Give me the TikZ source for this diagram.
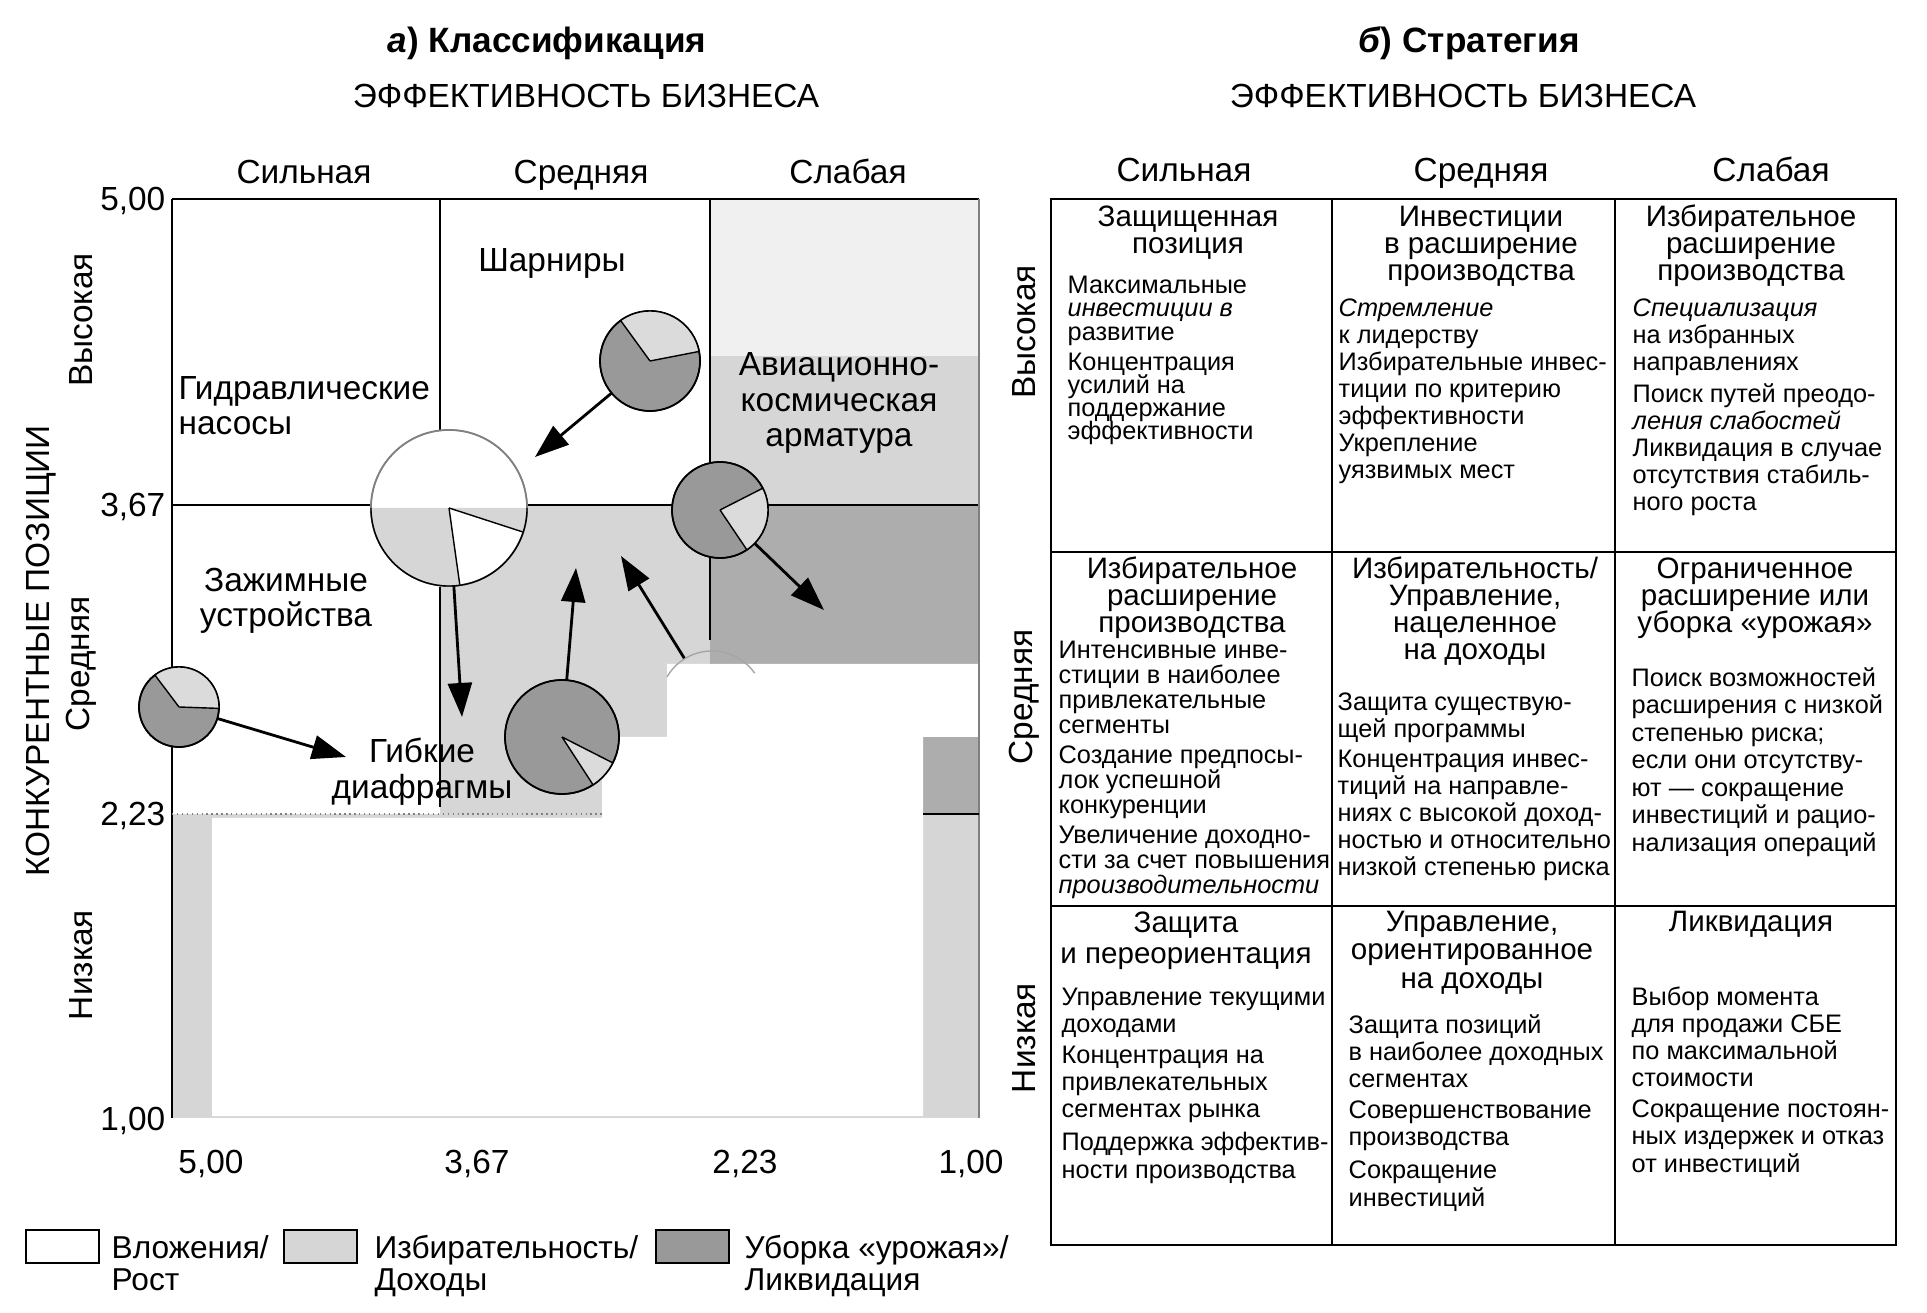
\documentclass[tikz,border=0pt]{standalone}
\usepackage{fontspec}
\setmainfont{Liberation Sans}
\usetikzlibrary{arrows.meta, positioning}
\definecolor{faintgray}{gray}{0.94}
\definecolor{litegray}{gray}{0.84}
\definecolor{darkgray2}{gray}{0.68}
\definecolor{piedark}{gray}{0.60}
\definecolor{pielite}{gray}{0.86}

\begin{document}
\lineskiplimit=-20pt
\begin{tikzpicture}[x=0.01cm, y=0.01cm,
    lbl/.style={font=\fontsize{9.5}{10.5}\selectfont, inner sep=0pt, anchor=base},
    blk/.style={lbl, align=center, font=\fontsize{9.5}{10.2}\selectfont},
    ttl/.style={font=\bfseries\fontsize{10}{12}\selectfont, inner sep=0pt, anchor=base},
    hd/.style={font=\fontsize{8.4}{7.7}\selectfont, inner sep=0pt,
               anchor=base, align=center},
    bd/.style={font=\fontsize{7.2}{7.7}\selectfont, inner sep=0pt,
               anchor=base west, align=left},
    leg/.style={font=\fontsize{9}{9.1}\selectfont, inner sep=0pt,
                anchor=base west, align=left},
    pie/.style={circle, draw, line width=0.5pt, inner sep=0pt, outer sep=0pt},
    move/.style={line width=0.8pt, -{Triangle[length=3.4mm,width=2.4mm]}},
    rule/.style={line width=0.6pt},
    key/.style={draw, line width=0.6pt, minimum width=7.3mm, minimum height=3.3mm,
                inner sep=0pt, anchor=north west},
  ]
  \useasboundingbox (0,0) rectangle (1927,-1313);

  % (a) classification matrix: shaded zones
  \fill[faintgray] (710,-199) rectangle (979,-356);
  \fill[litegray] (710,-356) rectangle (979,-505);
  \fill[litegray] (440,-505) rectangle (710,-814);
  \fill[darkgray2] (710,-505) rectangle (979,-814);
  \fill[litegray] (172,-814) rectangle (979,-1118);
  \fill[white] (667,-664) -- (979,-664) -- (979,-737) -- (923,-737) -- (923,-1116)
    -- (212,-1116) -- (212,-818) -- (602,-818) -- (602,-737) -- (667,-737) -- cycle;

  \draw[rule] (172,-199) -- (979,-199);
  \draw[rule] (172,-199) -- (172,-1118);
  \draw[rule] (172,-505) -- (979,-505);
  \draw[rule] (440,-199) -- (440,-433);
  \draw[rule] (440,-587) -- (440,-807);
  \draw[rule] (710,-199) -- (710,-640);
  \draw[gray, line width=0.4pt] (979,-199) -- (979,-1118);
  \draw[gray, densely dotted] (172,-814) -- (602,-814);
  \draw[rule] (923,-814) -- (979,-814);

  % business units
  \node[pie, fill=piedark, minimum size=10mm] (p1) at (650,-361) {};
  \fill[pielite] (p1.center) -- ++(11:5mm) arc[start angle=11, end angle=126, radius=5mm] -- cycle;
  \draw (p1.center) -- ++(11:5mm) (p1.center) -- ++(126:5mm) (p1.center) circle[radius=5mm];

  \node[pie, draw=gray, fill=white, minimum size=15.6mm] (p2) at (449,-508) {};
  \fill[litegray] (p2.center) -- ++(180:7.8mm) arc[start angle=180, end angle=278, radius=7.8mm] -- cycle;
  \fill[litegray] (p2.center) -- ++(342:7.8mm) arc[start angle=342, end angle=360, radius=7.8mm] -- cycle;
  \draw (p2.center) -- ++(-18:7.8mm) (p2.center) -- ++(-82:7.8mm);
  \draw[gray] (p2.center) circle[radius=7.8mm];
  \draw (p2.center) ++(180:7.8mm) arc[start angle=180, end angle=360, radius=7.8mm];

  \node[pie, fill=piedark, minimum size=9.6mm] (p3) at (720,-510) {};
  \fill[pielite] (p3.center) -- ++(-56:4.8mm) arc[start angle=-56, end angle=27, radius=4.8mm] -- cycle;
  \draw (p3.center) -- ++(-56:4.8mm) (p3.center) -- ++(27:4.8mm) (p3.center) circle[radius=4.8mm];

  \node[pie, fill=piedark, minimum size=8mm] (p4) at (179,-707) {};
  \fill[pielite] (p4.center) -- ++(-2:4mm) arc[start angle=-2, end angle=127, radius=4mm] -- cycle;
  \draw (p4.center) -- ++(-2:4mm) (p4.center) -- ++(127:4mm) (p4.center) circle[radius=4mm];

  \node[pie, fill=piedark, minimum size=11.4mm] (p5) at (562,-737) {};
  \fill[pielite] (p5.center) -- ++(-57:5.7mm) arc[start angle=-57, end angle=-27, radius=5.7mm] -- cycle;
  \draw (p5.center) -- ++(-57:5.7mm) (p5.center) -- ++(-27:5.7mm) (p5.center) circle[radius=5.7mm];

  \node[circle, minimum size=10.4mm, inner sep=0pt] (p6) at (712,-703) {};
  \draw[gray!70] (p6.center) ++(35:5.2mm) arc[start angle=35, end angle=150, radius=5.2mm];

  \coordinate (a1) at (535,-457);
  \coordinate (a2) at (462,-717);
  \coordinate (a3) at (824,-610);
  \coordinate (a4) at (346,-757);
  \coordinate (a5) at (576,-568);
  \coordinate (a6) at (621,-556);
  \draw[move] (p1) -- (a1);
  \draw[move] (p2) -- (a2);
  \draw[move] (p3) -- (a3);
  \draw[move] (p4) -- (a4);
  \draw[move] (p5) -- (a5);
  \draw[move] (p6) -- (a6);

  % multi-line nodes are placed by the baseline of their last line
  \node[lbl] (shar) at (552,-272) {Шарниры};
  \node[blk, align=left, anchor=base west] (gidr) at (178,-435) {Гидравлические\\насосы};
  \node[blk] (avia) at (839,-447) {Авиационно-\\космическая\\арматура};
  \node[blk] (zazh) at (286,-627) {Зажимные\\устройства};
  \node[blk] (gibk) at (422,-798) {Гибкие\\диафрагмы};

  % (a) titles and axes
  \node[ttl] (tA) at (547,-53) {\textit{а}) Классификация};
  \node[lbl] (effA) at (586,-108) {ЭФФЕКТИВНОСТЬ БИЗНЕСА};
  \node[lbl] (cA1) at (304,-184) {Сильная};
  \node[lbl] (cA2) at (581,-184) {Средняя};
  \node[lbl] (cA3) at (848,-184) {Слабая};
  \node[lbl, anchor=base east] (y1) at (166,-211) {5,00};
  \node[lbl, anchor=base east] (y2) at (166,-517) {3,67};
  \node[lbl, anchor=base east] (y3) at (166,-826) {2,23};
  \node[lbl, anchor=base east] (y4) at (166,-1130) {1,00};
  \node[lbl] (x1) at (211,-1173) {5,00};
  \node[lbl] (x2) at (477,-1173) {3,67};
  \node[lbl] (x3) at (745,-1173) {2,23};
  \node[lbl] (x4) at (971,-1173) {1,00};
  \node[lbl, rotate=90, anchor=center] (rA1) at (81,-320) {Высокая};
  \node[lbl, rotate=90, anchor=center] (rA2) at (81,-664) {Средняя};
  \node[lbl, rotate=90, anchor=center] (rA3) at (81,-965) {Низкая};
  \node[lbl, rotate=90, anchor=center] (konk) at (41,-651) {КОНКУРЕНТНЫЕ ПОЗИЦИИ};

  % legend
  \node[key, fill=white] (k1) at (25,-1229) {};
  \node[key, fill=litegray] (k2) at (283,-1229) {};
  \node[key, fill=piedark] (k3) at (655,-1229) {};
  \node[leg] (k1t) at (111,-1290) {Вложения/\\Рост};
  \node[leg] (k2t) at (374,-1290) {Избирательность/\\Доходы};
  \node[leg] (k3t) at (744,-1290) {Уборка «урожая»/\\Ликвидация};

  % (b) strategy table
  \node[ttl] (tB) at (1469,-53) {\textit{б}) Стратегия};
  \node[lbl] (effB) at (1463,-108) {ЭФФЕКТИВНОСТЬ БИЗНЕСА};
  \node[lbl] (cB1) at (1184,-182) {Сильная};
  \node[lbl] (cB2) at (1481,-182) {Средняя};
  \node[lbl] (cB3) at (1771,-182) {Слабая};
  \node[lbl, rotate=90, anchor=center] (rB1) at (1024,-332) {Высокая};
  \node[lbl, rotate=90, anchor=center] (rB2) at (1024,-697) {Средняя};
  \node[lbl, rotate=90, anchor=center] (rB3) at (1024,-1038) {Низкая};

  \draw[line width=0.8pt] (1051,-199) rectangle (1896,-1245);
  \draw[rule] (1332,-199) -- (1332,-1245);
  \draw[rule] (1615,-199) -- (1615,-1245);
  \draw[rule] (1051,-552) -- (1896,-552);
  \draw[rule] (1051,-906) -- (1896,-906);

  \node[hd] (h11) at (1188,-254) {Защищенная\\позиция};
  \node[bd, font=\fontsize{7.2}{6.6}\selectfont] (b11) at (1067,-440)
    {Максимальные\\\textit{инвестиции в}\\развитие\\[2pt]Концентрация\\усилий на\\поддержание\\эффективности};
  \node[hd] (h12) at (1481,-281) {Инвестиции\\в расширение\\производства};
  \node[bd] (b12) at (1338,-479)
    {\textit{Стремление}\\к лидерству\\Избирательные инвес-\\тиции по критерию\\эффективности\\Укрепление\\уязвимых мест};
  \node[hd] (h13) at (1751,-281) {Избирательное\\расширение\\производства};
  \node[bd] (b13) at (1632,-511)
    {\textit{Специализация}\\на избранных\\направлениях\\[1.4pt]Поиск путей преодо-\\\textit{ления слабостей}\\Ликвидация в случае\\отсутствия стабиль-\\ного роста};

  \node[hd] (h21) at (1192,-633) {Избирательное\\расширение\\производства};
  \node[bd, font=\fontsize{7.2}{7.1}\selectfont] (b21) at (1058,-893)
    {Интенсивные инве-\\стиции в наиболее\\привлекательные\\сегменты\\[1.4pt]Создание предпосы-\\лок успешной\\конкуренции\\[1.4pt]Увеличение доходно-\\сти за счет повышения\\\textit{производительности}};
  \node[hd] (h22) at (1475,-660) {Избирательность/\\Управление,\\нацеленное\\на доходы};
  \node[bd] (b22) at (1337,-876)
    {Защита существую-\\щей программы\\[1pt]Концентрация инвес-\\тиций на направле-\\ниях с высокой доход-\\ностью и относительно\\низкой степенью риска};
  \node[hd] (h23) at (1755,-633) {Ограниченное\\расширение или\\уборка «урожая»};
  \node[bd, font=\fontsize{7.2}{7.8}\selectfont] (b23) at (1631,-851)
    {Поиск возможностей\\расширения с низкой\\степенью риска;\\если они отсутству-\\ют — сокращение\\инвестиций и рацио-\\нализация операций};

  \node[hd, font=\fontsize{8.4}{8.7}\selectfont] (h31) at (1186,-963) {Защита\\и переориентация};
  \node[bd] (b31) at (1061,-1178)
    {Управление текущими\\доходами\\[1.2pt]Концентрация на\\привлекательных\\сегментах рынка\\[1.7pt]Поддержка эффектив-\\ности производства};
  \node[hd, font=\fontsize{8.4}{8}\selectfont] (h32) at (1472,-988) {Управление,\\ориентированное\\на доходы};
  \node[bd] (b32) at (1348,-1206)
    {Защита позиций\\в наиболее доходных\\сегментах\\[1.2pt]Совершенствование\\производства\\[1.7pt]Сокращение\\инвестиций};
  \node[hd] (h33) at (1751,-932) {Ликвидация};
  \node[bd] (b33) at (1631,-1172)
    {Выбор момента\\для продажи СБЕ\\по максимальной\\стоимости\\[1.2pt]Сокращение постоян-\\ных издержек и отказ\\от инвестиций};
\end{tikzpicture}
\end{document}
